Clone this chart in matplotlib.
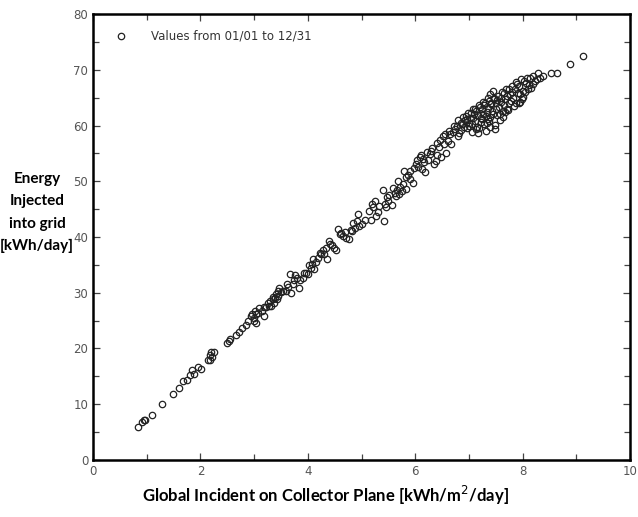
import numpy as np
import matplotlib
matplotlib.use("Agg")
from matplotlib import pyplot as plt
from matplotlib.ticker import MultipleLocator

# daily values
irradiation = [
    0.83, 0.92, 0.95, 0.97, 1.09, 1.28, 1.49, 1.61, 1.67, 1.75, 1.80, 1.85, 1.88, 1.96, 2.01,
    2.14, 2.17, 2.20, 2.22, 2.26, 2.17, 2.50, 2.54, 2.56, 2.66, 2.72, 2.78, 2.85, 2.88, 2.95,
    2.96, 3.00, 3.04, 3.03, 3.10, 3.15, 3.19, 3.22, 3.26, 3.30, 3.32, 3.35, 3.38, 3.41, 3.45,
    3.46, 3.37, 3.43, 3.54, 3.59, 3.63, 3.66, 3.68, 3.72, 3.77, 3.80, 3.83, 3.86, 3.91, 3.96,
    4.01, 4.06, 4.08, 4.09, 4.11, 4.19, 4.22, 4.25, 4.28, 4.33, 4.36, 4.39, 4.41, 4.48, 4.53,
    4.57, 4.59, 4.66, 4.72, 4.77, 4.80, 4.85, 4.88, 4.93, 4.96, 5.00, 5.14, 5.17, 5.22, 5.25,
    5.27, 5.30, 5.41, 5.40, 5.45, 5.48, 5.50, 5.56, 5.59, 5.64, 5.67, 5.70, 5.75, 5.80, 5.83,
    5.82, 5.86, 5.91, 5.96, 6.01, 6.04, 6.08, 6.11, 6.12, 6.17, 6.19, 6.23, 6.27, 6.32, 6.35,
    6.38, 6.41, 6.45, 6.48, 6.51, 6.54, 6.57, 6.61, 6.64, 6.67, 6.70, 6.74, 6.77, 6.79, 6.81,
    6.85, 6.88, 6.92, 6.94, 6.96, 7.00, 7.03, 7.05, 7.06, 7.09, 7.12, 7.14, 7.17, 7.19, 7.22,
    7.25, 7.28, 7.30, 7.32, 7.35, 7.38, 7.40, 7.41, 7.43, 7.46, 7.48, 7.50, 7.52, 7.56, 7.59,
    7.63, 7.65, 7.67, 7.69, 7.74, 7.77, 7.80, 7.83, 7.86, 7.90, 7.93, 7.95, 7.97, 8.01, 8.06,
    8.10, 8.14, 8.19, 8.23, 8.28, 8.33, 8.38, 8.53, 8.64, 8.88, 9.12,
    6.86, 6.90, 6.93, 6.97, 7.01, 7.04, 7.08, 7.11, 7.13, 7.16, 7.20, 7.23, 7.26, 7.29, 7.31,
    7.34, 7.37, 7.39, 7.42, 7.45, 7.47, 7.49, 7.51, 7.54, 7.57, 7.60, 7.62, 7.64, 7.66, 7.70,
    7.72, 7.75, 7.78, 7.81, 7.84, 7.88, 7.91, 7.94, 7.98, 8.02, 8.05, 8.08, 8.12, 8.16, 8.20,
    8.26, 7.44, 7.36, 7.27, 7.18, 7.07, 6.98, 6.89, 6.80, 6.72, 6.63, 6.55, 6.47, 6.40, 6.30,
    6.22, 6.14, 6.06, 5.97, 5.90, 5.78, 5.72, 5.66, 5.62, 5.52, 5.43, 5.33, 5.20, 5.07, 4.91,
    4.82, 4.70, 4.62, 4.45, 4.30, 4.16, 4.03, 3.93, 3.74, 3.61, 3.50, 3.44, 3.36, 3.28, 3.18,
    3.07, 2.99, 3.02,
    7.15, 7.33, 7.52, 7.71, 7.58, 7.40, 7.24, 7.87, 8.00, 7.96, 7.68, 7.35,
]
energy = [
    5.9, 6.8, 7.1, 7.2, 8.1, 10.1, 11.9, 12.9, 14.1, 14.3, 15.2, 16.2, 15.5, 16.7, 16.4,
    17.9, 18.9, 19.3, 18.4, 19.4, 18.0, 21.0, 21.3, 21.7, 22.5, 22.9, 23.7, 24.3, 25.0, 25.8,
    26.1, 25.5, 24.6, 26.2, 27.3, 26.7, 25.8, 27.4, 28.2, 28.5, 27.6, 28.8, 29.1, 29.7, 30.3,
    30.8, 28.2, 28.8, 30.3, 30.4, 31.0, 33.4, 30.0, 31.6, 33.1, 32.7, 30.9, 32.3, 32.7, 33.6,
    33.4, 34.5, 35.1, 36.0, 34.2, 36.3, 37.2, 36.9, 37.6, 38.1, 36.0, 39.3, 38.7, 38.0, 37.6,
    41.4, 40.5, 40.2, 39.9, 39.6, 41.3, 42.5, 41.7, 44.1, 42.0, 42.3, 44.6, 43.0, 45.3, 46.5,
    43.8, 44.4, 42.8, 48.4, 45.3, 47.1, 46.5, 45.7, 48.7, 47.3, 50.0, 47.8, 48.3, 51.8, 48.6,
    50.8, 51.2, 51.8, 49.6, 53.1, 53.8, 54.3, 54.7, 52.2, 53.5, 51.6, 53.8, 54.9, 56.0, 53.1,
    53.7, 54.7, 56.1, 54.4, 58.1, 56.6, 55.0, 57.3, 58.4, 56.6, 58.8, 59.3, 59.9, 58.2, 58.6,
    59.2, 60.2, 61.0, 61.7, 59.6, 60.5, 61.4, 58.8, 60.2, 62.0, 60.8, 62.6, 58.6, 59.5, 61.4,
    62.9, 60.2, 64.0, 61.7, 63.2, 60.8, 65.6, 64.1, 62.6, 65.0, 59.4, 64.0, 64.6, 63.4, 65.0,
    62.6, 65.9, 64.7, 66.5, 64.0, 65.6, 67.1, 65.0, 66.5, 67.4, 64.0, 65.6, 68.3, 66.2, 67.6,
    66.5, 68.5, 67.4, 68.0, 69.4, 68.6, 68.9, 69.5, 69.4, 71.0, 72.5,
    60.5, 59.8, 60.9, 61.2, 59.9, 62.2, 61.3, 62.9, 59.3, 61.9, 63.3, 60.6, 62.1, 63.6, 59.1,
    62.4, 64.4, 61.5, 63.8, 62.0, 64.8, 60.1, 63.0, 65.3, 62.1, 64.2, 66.0, 61.5, 63.6, 65.3,
    62.8, 66.6, 64.4, 66.0, 63.5, 67.8, 65.9, 67.0, 64.8, 67.9, 66.0, 68.6, 67.2, 66.8, 68.9,
    68.3, 66.1, 65.0, 64.3, 63.7, 63.0, 62.3, 61.6, 60.9, 60.0, 59.0, 58.5, 57.4, 56.8, 55.5,
    55.2, 54.0, 52.5, 52.4, 50.4, 49.5, 48.9, 48.4, 47.9, 47.6, 46.0, 45.5, 45.9, 43.1, 42.9,
    41.0, 40.9, 40.8, 38.6, 37.0, 35.6, 34.9, 33.6, 32.3, 31.5, 30.1, 29.4, 29.3, 27.6, 27.4,
    26.4, 25.0, 26.8,
    59.8, 60.4, 61.9, 63.0, 61.0, 59.7, 61.1, 64.1, 65.2, 64.3, 62.4, 61.2,
]

fig = plt.figure(figsize=(6.38, 5.17), dpi=100)
ax = fig.add_axes([0.1458, 0.1103, 0.8417, 0.8626])

ax.plot(irradiation, energy, linestyle="none", marker="o", markersize=4.6,
        markerfacecolor="none", markeredgecolor="#222222", markeredgewidth=0.9,
        label="Values from 01/01 to 12/31")

ax.set_xlim(0, 10)
ax.set_ylim(0, 80)
ax.xaxis.set_major_locator(MultipleLocator(2))
ax.xaxis.set_minor_locator(MultipleLocator(1))
ax.yaxis.set_major_locator(MultipleLocator(10))
ax.yaxis.set_minor_locator(MultipleLocator(5))
ax.tick_params(which="both", direction="in", top=True, right=True,
               labelsize=8.5, labelcolor="#555555", color="#444444")
ax.tick_params(which="major", length=5, width=0.9)
ax.tick_params(which="minor", length=4, width=0.9)
for sp in ax.spines.values():
    sp.set_linewidth(1.8)

ax.legend(loc="upper left", frameon=False, fontsize=8.5, handletextpad=1.6,
          borderaxespad=0.95, labelcolor="#333333")

fig.text(0.058, 0.589, "Energy\nInjected\ninto grid\n[kWh/day]", ha="center", va="center",
         fontsize=11, fontweight="bold", family="Lato", linespacing=1.75)
fig.text(0.51, 0.042, "Global Incident on Collector Plane [kWh/m$^2$/day]", ha="center",
         va="center", fontsize=12, fontweight="bold", family="Lato")

fig.savefig("out.png", dpi=100)
